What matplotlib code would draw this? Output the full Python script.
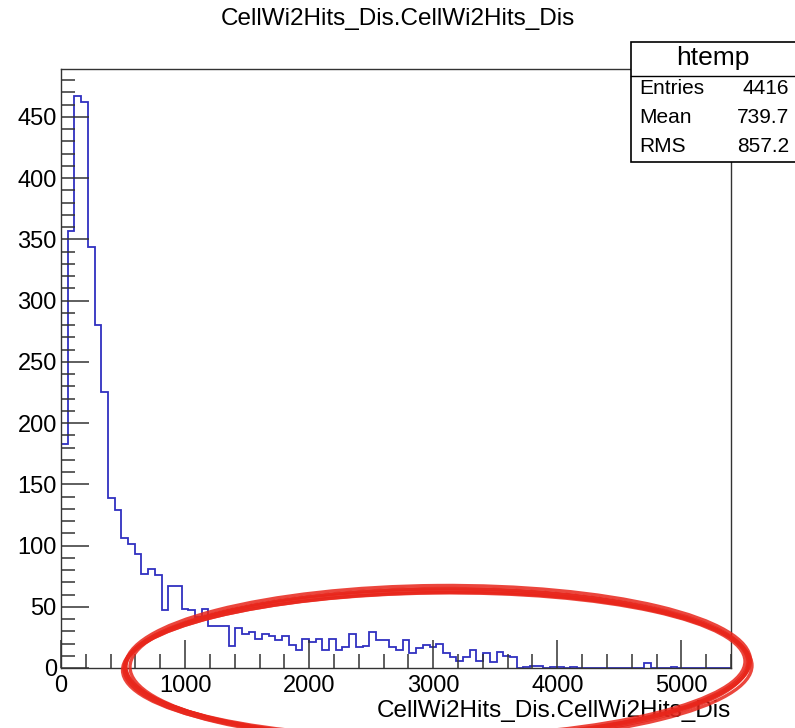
import numpy as np
import matplotlib
matplotlib.use("Agg")
import matplotlib.pyplot as plt
from matplotlib.patches import Ellipse, Rectangle
from matplotlib.ticker import MultipleLocator

plt.rcParams['font.family'] = ['Liberation Sans', 'DejaVu Sans']

# histogram: 100 bins from 0 to 5400
x_min, x_max, n_bins = 0, 5400, 100
counts = [183, 357, 467, 462, 344, 280, 225, 139, 129, 106,
          101, 93, 77, 81, 76, 47, 67, 67, 48, 47,
          42, 48, 34, 34, 34, 18, 33, 28, 29, 24,
          28, 26, 23, 26, 19, 15, 24, 21, 24, 15,
          24, 15, 17, 28, 17, 18, 29, 23, 23, 17,
          15, 23, 12, 16, 19, 17, 20, 12, 9, 6,
          9, 15, 6, 12, 5, 13, 10, 9, 0, 1,
          2, 2, 0, 1, 1, 0, 1, 0, 0, 0,
          0, 0, 0, 0, 0, 0, 0, 4, 0, 0,
          0, 1, 0, 0, 0, 0, 0, 0, 0, 0]
edges = np.linspace(x_min, x_max, n_bins + 1)

title = "CellWi2Hits_Dis.CellWi2Hits_Dis"
stats_name = "htemp"
stats_rows = [("Entries", "4416"), ("Mean", "739.7"), ("RMS", "857.2")]

fig = plt.figure(figsize=(7.95, 7.28), dpi=100)
ax = fig.add_axes([61/795, 1-668/728, 670/795, 599/728])

ax.stairs(counts, edges, color='#3030c0', lw=1.3, baseline=0)
ax.set_xlim(x_min, x_max)
ax.set_ylim(0, 489)

ax.xaxis.set_major_locator(MultipleLocator(1000))
ax.xaxis.set_minor_locator(MultipleLocator(200))
ax.yaxis.set_major_locator(MultipleLocator(50))
ax.yaxis.set_minor_locator(MultipleLocator(10))
ax.tick_params(which='major', direction='in', length=20, width=1.1, color='#333333',
               labelsize=17, top=False, right=False)
ax.tick_params(which='minor', direction='in', length=10, width=1.1, color='#333333',
               top=False, right=False)
ax.tick_params(axis='x', pad=5)
ax.tick_params(axis='y', pad=3)
for s in ax.spines.values():
    s.set_linewidth(1.0)
    s.set_color('#333333')

fig.text(398/795, 1-19/728, title, ha='center', va='center', fontsize=17.5)
ax.set_xlabel(title, fontsize=17.5, loc='right', labelpad=2)

# stats box
box = Rectangle((631/795, 1-162/728), 170/795, 120/728, transform=fig.transFigure,
                facecolor='white', edgecolor='black', lw=1.2, zorder=5)
fig.add_artist(box)
fig.add_artist(plt.Line2D([631/795, 1], [1-75.7/728]*2, transform=fig.transFigure,
                          color='black', lw=1.0, zorder=6))
fig.text(713/795, 1-58/728, stats_name, ha='center', va='center', fontsize=19, zorder=7)
for i, (k, v) in enumerate(stats_rows):
    y = 1 - (88 + 29.5*i)/728
    fig.text(639/795, y, k, ha='left', va='center', fontsize=15, zorder=7)
    fig.text(789/795, y, v, ha='right', va='center', fontsize=15, zorder=7)

# red hand-drawn ellipse annotation
over = fig.add_axes([0, 0, 1, 1])
over.set_xlim(0, 795)
over.set_ylim(728, 0)
over.axis('off')
strokes = [(0, 0, 0, 0, -0.6), (2, 1, -4, 3, -0.4), (-1, 2, 5, -3, -0.8),
           (1, -1, 3, 5, -0.5), (-2, 1, -2, -6, -0.7), (1, 3, 6, 2, -0.3)]
for dx, dy, dw, dh, a in strokes:
    over.add_patch(Ellipse((437 + dx, 664 + dy), 622 + dw, 150 + dh, angle=a,
                           fill=False, edgecolor='#e8261b', lw=2.4, alpha=0.85))

fig.savefig('out.png', dpi=100)
